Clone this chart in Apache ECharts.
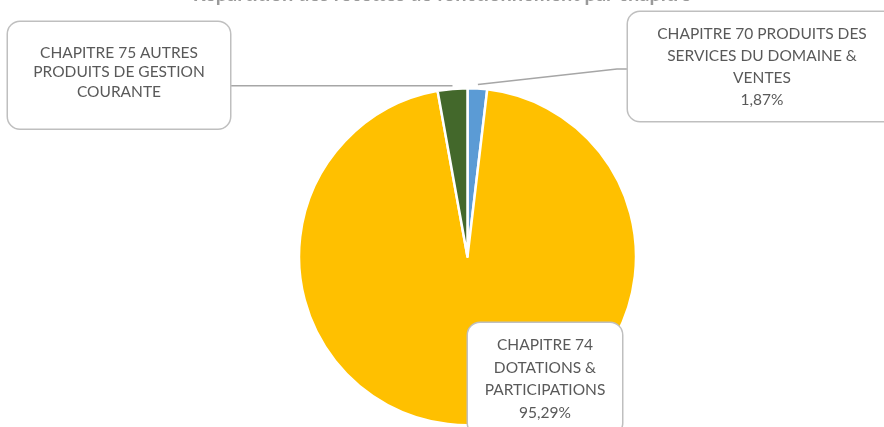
<!DOCTYPE html>
<html>
<head>
<meta charset="utf-8">
<script src="https://cdn.jsdelivr.net/npm/echarts@6/dist/echarts.min.js"></script>
<style>
  html, body { margin: 0; padding: 0; background: #fff; }
  #main { width: 884px; height: 427px; }
</style>
</head>
<body>
<div id="main"></div>
<script>
// données du graphique
var chapitres = [
  "CHAPITRE 70 PRODUITS DES\nSERVICES DU DOMAINE &\nVENTES",
  "CHAPITRE 74\nDOTATIONS &\nPARTICIPATIONS",
  "CHAPITRE 75 AUTRES\nPRODUITS DE GESTION\nCOURANTE"
];
var parts = [1.87, 95.29, 2.84];
var couleurs = ["#5B9BD5", "#FFC000", "#43682B"];
var afficherPct = [true, true, false];

// position des étiquettes (boîtes)
var boites = [
  { x: 762, y: 12, width: 268, lineHeight: 22, padding: [11, 0, 10, 0], line: "right" },
  { x: 545, y: 323, width: 154, lineHeight: 22.5, padding: [11, 0, 11, 0], line: null },
  { x: 119, y: 22, width: 222, lineHeight: 19.5, padding: [21, 0, 27, 0], line: "left" }
];

var myChart = echarts.init(document.getElementById("main"));

var seriesData = chapitres.map(function (nom, i) {
  var b = boites[i];
  return {
    name: nom,
    value: parts[i],
    itemStyle: { color: couleurs[i] },
    label: {
      width: b.width,
      lineHeight: b.lineHeight,
      padding: b.padding
    },
    labelLine: { show: b.line !== null }
  };
});

var option = {
  animation: false,
  title: {
    text: "Répartition des recettes de fonctionnement par chapitre",
    left: "center",
    top: -15,
    padding: 0,
    textStyle: {
      fontFamily: "Lato",
      fontWeight: "bold",
      fontSize: 20,
      lineHeight: 20,
      color: "#9A9A9A"
    }
  },
  series: [
    {
      type: "pie",
      center: [467.5, 256.7],
      radius: 168.5,
      startAngle: 90,
      clockwise: true,
      avoidLabelOverlap: false,
      itemStyle: {
        borderColor: "#fff",
        borderWidth: 2.5
      },
      label: {
        show: true,
        position: "outside",
        fontFamily: "Lato",
        fontSize: 15.5,
        color: "#595959",
        align: "center",
        backgroundColor: "#fff",
        borderColor: "#BFBFBF",
        borderWidth: 1.5,
        borderRadius: 12,
        formatter: function (p) {
          var txt = p.name;
          if (afficherPct[p.dataIndex]) {
            txt += "\n" + p.value.toFixed(2).replace(".", ",") + "%";
          }
          return txt;
        }
      },
      labelLine: {
        show: true,
        length: 10,
        length2: 10,
        lineStyle: { color: "#A6A6A6", width: 1.5 }
      },
      labelLayout: function (params) {
        var b = boites[params.dataIndex];
        var res = { x: b.x, y: b.y, align: "center", verticalAlign: "top" };
        var pts = params.labelLinePoints;
        if (b.line && pts) {
          var p0 = pts[0];
          if (b.line === "left") {
            res.labelLinePoints = [[p0[0], p0[1] - 3], [b.x + b.width / 2 - 0.5, p0[1] - 3]];
          } else {
            res.labelLinePoints = [[p0[0] + 0.5, p0[1] - 4], [617, 69], [b.x - b.width / 2, 69]];
          }
        }
        return res;
      },
      data: seriesData
    }
  ]
};

myChart.setOption(option);
</script>
</body>
</html>
